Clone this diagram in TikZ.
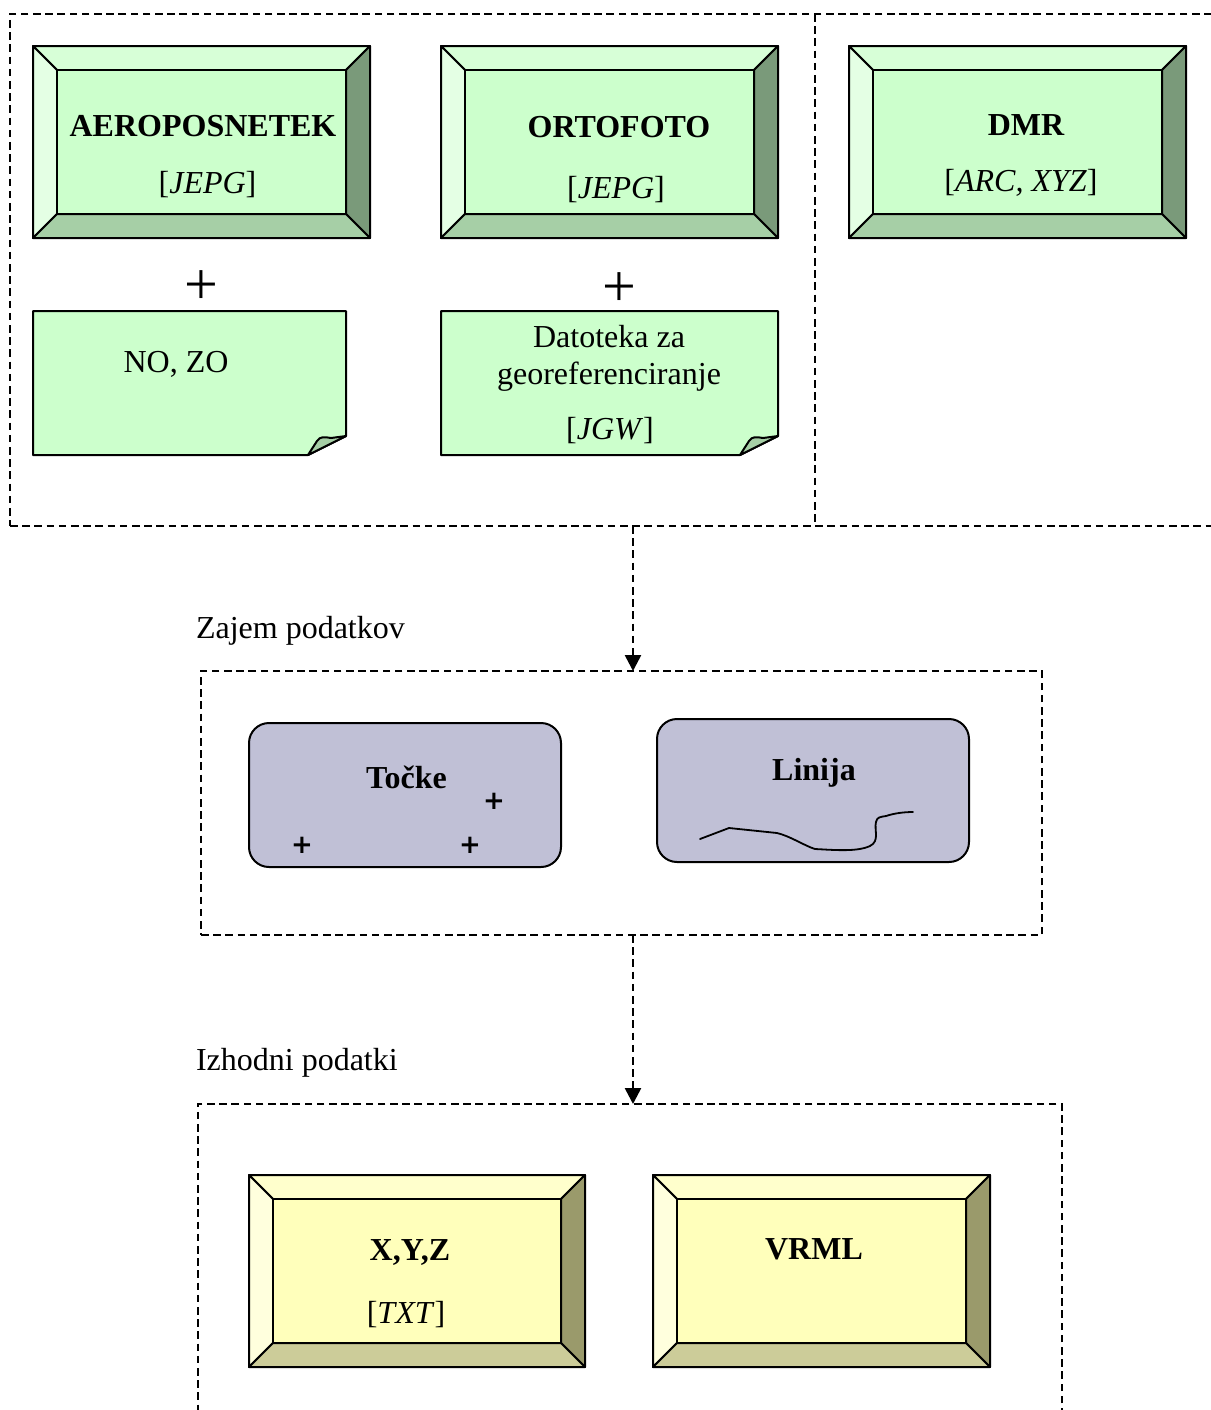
\documentclass[tikz,border=0pt]{standalone}
\usepackage{fontspec}
\setmainfont{Liberation Serif}
\newfontfamily\plusfont{DejaVu Sans}
\usetikzlibrary{arrows.meta}
\pgfdeclarelayer{background}
\pgfsetlayers{background,main}
\definecolor{gC}{HTML}{CCFFCC}
\definecolor{gT}{HTML}{D7FFD7}
\definecolor{gL}{HTML}{E4FFE4}
\definecolor{gR}{HTML}{7A9A7A}
\definecolor{gB}{HTML}{A6CFA6}
\definecolor{yC}{HTML}{FFFFBB}
\definecolor{yT}{HTML}{FFFFCC}
\definecolor{yL}{HTML}{FFFFDD}
\definecolor{yR}{HTML}{9A9A6B}
\definecolor{yB}{HTML}{CCCC99}
\definecolor{pbox}{HTML}{C0C0D6}
\newcommand{\bevelfill}[2]{%
  \begin{pgfonlayer}{background}
  \coordinate (#1-i1) at ([shift={(24,24)}]#1.north west);
  \coordinate (#1-i2) at ([shift={(-24,24)}]#1.north east);
  \coordinate (#1-i3) at ([shift={(-24,-24)}]#1.south east);
  \coordinate (#1-i4) at ([shift={(24,-24)}]#1.south west);
  \filldraw[solidline,fill=#2T] (#1.north west) -- (#1.north east) -- (#1-i2) -- (#1-i1) -- cycle;
  \filldraw[solidline,fill=#2L] (#1.north west) -- (#1-i1) -- (#1-i4) -- (#1.south west) -- cycle;
  \filldraw[solidline,fill=#2R] (#1.north east) -- (#1.south east) -- (#1-i3) -- (#1-i2) -- cycle;
  \filldraw[solidline,fill=#2B] (#1.south west) -- (#1-i4) -- (#1-i3) -- (#1.south east) -- cycle;
  \filldraw[solidline,fill=#2C] (#1-i1) rectangle (#1-i3);
  \end{pgfonlayer}}
\newcommand{\notefill}[1]{%
  \begin{pgfonlayer}{background}
  \filldraw[solidline,fill=gC] (#1.north west) -- (#1.north east) -- ([shift={(0,-19)}]#1.south east)
     -- ([shift={(-38,0)}]#1.south east) -- (#1.south west) -- cycle;
  \filldraw[solidline,fill=gB] ([shift={(-38,0)}]#1.south east) -- ([shift={(-29,-14)}]#1.south east)
     .. controls ([shift={(-26,-19)}]#1.south east) and ([shift={(-21,-18)}]#1.south east) .. ([shift={(-15,-17)}]#1.south east)
     -- ([shift={(0,-19)}]#1.south east) -- cycle;
  \end{pgfonlayer}}
\begin{document}
\begin{tikzpicture}[x=0.5pt,y=-0.5pt,
  every node/.style={font=\fontsize{16}{18.5}\selectfont, inner sep=0pt, outer sep=0pt},
  solidline/.style={draw=black, line width=1pt, line join=round},
  dashline/.style={draw=black, line width=1.3pt, dash pattern=on 3.8pt off 2.3pt},
  bevelnode/.style={minimum width=168.5pt, minimum height=96pt},
  notenode/.style={minimum height=72pt},
  roundbox/.style={solidline, fill=pbox, rounded corners=10pt, minimum width=156pt},
  title/.style={font=\fontsize{16}{18.5}\selectfont\bfseries},
  bigplus/.style={font=\fontsize{30}{30}\selectfont},
  smallplus/.style={font=\plusfont\fontsize{13}{13}\selectfont\bfseries},
  arrowline/.style={dashline, -{Triangle[length=8pt,width=8pt]}}
]
\useasboundingbox (0,0) rectangle (1211,1410);
\clip (0,0) rectangle (1211,1410);

% group frames
\node[dashline, minimum width=602.5pt, minimum height=256pt] (grpIn) at (612.5,270) {};
\node[dashline, minimum width=420.5pt, minimum height=132pt] (grpMid) at (621.5,803) {};
\node[dashline, minimum width=432pt, minimum height=163pt] (grpOut) at (630,1267) {};
\coordinate (dv) at (815,0);
\draw[dashline] (dv |- grpIn.north) -- (dv |- grpIn.south);

% input boxes
\node[bevelnode] (aero) at (201.5,142) {};
\bevelfill{aero}{g}
\node[title] (aeroT) at (203,126) {AEROPOSNETEK};
\node (aeroF) at (207.5,185) {[\textit{JEPG}]};

\node[bevelnode] (orto) at (609.5,142) {};
\bevelfill{orto}{g}
\node[title] (ortoT) at (619,127) {ORTOFOTO};
\node (ortoF) at (616,190) {[\textit{JEPG}]};

\node[bevelnode] (dmr) at (1017.5,142) {};
\bevelfill{dmr}{g}
\node[title] (dmrT) at (1026,125) {DMR};
\node (dmrF) at (1021,183) {[\textit{ARC, XYZ}]};

\node[bigplus] (plus1) at (201,288) {+};
\node[bigplus] (plus2) at (619,290) {+};

\node[notenode, minimum width=156.5pt] (note1) at (189.5,383) {};
\notefill{note1}
\node (note1T) at (176,364) {NO, ZO};

\node[notenode, minimum width=168.5pt] (note2) at (609.5,383) {};
\notefill{note2}
\node[align=center] (note2T) at (609,358) {Datoteka za\\georeferenciranje};
\node (note2F) at (610,431) {[\textit{JGW}]};

% capture
\node[anchor=base west] (lblMid) at (196,638) {Zajem podatkov};
\node[roundbox, minimum height=72pt] (tocke) at (405,795) {};
\node[title] (tockeT) at (406.5,777) {Točke};
\node[smallplus] (tp1) at (494,801) {+};
\node[smallplus] (tp2) at (302,845) {+};
\node[smallplus] (tp3) at (470,845) {+};

\node[roundbox, minimum height=71.5pt] (linija) at (813,790.5) {};
\node[title] (linijaT) at (814,773) {Linija};
\draw[line width=0.9pt, line join=round, line cap=round] (700,839) -- (729,828) -- (777,833)
  .. controls (790,836) and (805,846) .. (815,849)
  .. controls (835,850) and (857,852) .. (870,846)
  .. controls (880,841) and (874,830) .. (876,822)
  .. controls (877,817) and (880,817) .. (886,816)
  .. controls (895,813) and (905,812) .. (913,812);

% output
\node[anchor=base west] (lblOut) at (196,1070) {Izhodni podatki};
\node[bevelnode, minimum width=168pt] (xyz) at (417,1271) {};
\bevelfill{xyz}{y}
\node[title] (xyzT) at (410,1252) {X,Y,Z};
\node (xyzF) at (406,1315) {[\textit{TXT}]};

\node[bevelnode] (vrml) at (821.5,1271) {};
\bevelfill{vrml}{y}
\node[title] (vrmlT) at (814,1249) {VRML};

% connectors
\coordinate (ax) at (633,0);
\draw[arrowline] (ax |- grpIn.south) -- (ax |- grpMid.north);
\draw[arrowline] (ax |- grpMid.south) -- (ax |- grpOut.north);
\end{tikzpicture}
\end{document}
